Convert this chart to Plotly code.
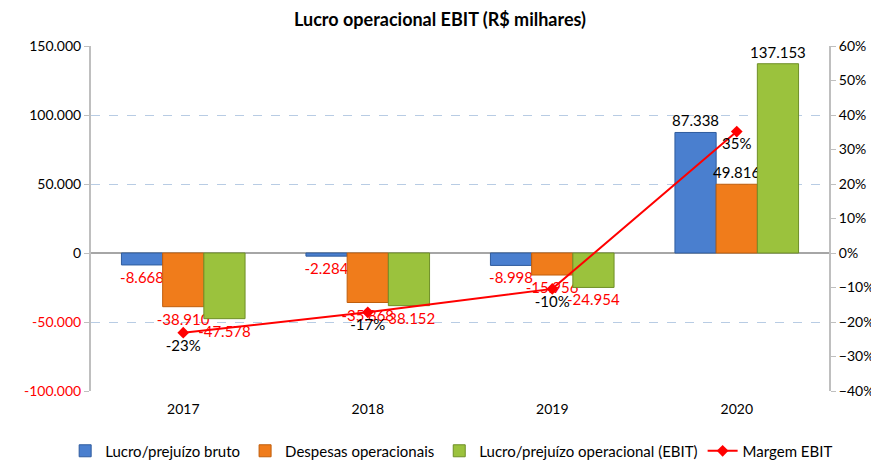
import plotly.graph_objects as go

years = ["2017", "2018", "2019", "2020"]
lucro_bruto = [-8668, -2284, -8998, 87338]
despesas = [-38910, -35868, -15956, 49816]
ebit = [-47578, -38152, -24954, 137153]
margem = [-0.231, -0.172, -0.104, 0.352]

left_ticks = [-100000, -50000, 0, 50000, 100000, 150000]


def fmt(v):
    return f"{v:,}".replace(",", ".")


def tick_label(v):
    s = fmt(v)
    return f'<span style="color:#ff0000">{s}</span>' if v < 0 else s


def val_colors(vals):
    return ["#ff0000" if v < 0 else "#000000" for v in vals]


FONT = "Lato, Open Sans, sans-serif"

fig = go.Figure()
series = [
    ("Lucro/prejuízo bruto", lucro_bruto, "#4a7fcf", "#2f5c9e"),
    ("Despesas operacionais", despesas, "#f07c1b", "#c05e0c"),
    ("Lucro/prejuízo operacional (EBIT)", ebit, "#9bc23d", "#6f8f27"),
]
for name, vals, col, lcol in series:
    fig.add_trace(go.Bar(
        x=years, y=vals, name=name,
        marker=dict(color=col, line=dict(color=lcol, width=1)),
        text=[fmt(v) for v in vals], textposition="outside",
        textfont=dict(color=val_colors(vals), size=15, family=FONT),
        constraintext="none", textangle=0,
        cliponaxis=False,
    ))

fig.add_trace(go.Scatter(
    x=years, y=margem, name="Margem EBIT", yaxis="y2",
    mode="lines+markers+text",
    line=dict(color="#ff0000", width=2),
    marker=dict(symbol="diamond", size=9, color="#ff0000"),
    text=[f"{round(m*100):d}%" for m in margem], textposition="bottom center",
    textfont=dict(color="#000000", size=15, family=FONT),
    cliponaxis=False,
))

# page has an 8px body margin, so the figure is sized/offset to compensate
fig.update_layout(
    width=871, height=453,
    margin=dict(l=83, r=50, t=38, b=70, autoexpand=False),
    paper_bgcolor="white", plot_bgcolor="white",
    font=dict(family=FONT, size=14, color="#000000"),
    separators=",.",
    title=dict(text="<b>Lucro operacional EBIT (R$ milhares)</b>", x=0.496, xanchor="center",
               xref="container", yref="container", y=0.975, yanchor="middle",
               automargin=False, font=dict(size=18, family=FONT)),
    barmode="group", bargap=0.33, bargroupgap=0,
    showlegend=True,
    legend=dict(orientation="h", x=-0.035, xanchor="left",
                y=-0.174, yanchor="middle", itemwidth=30,
                font=dict(size=15, family=FONT), traceorder="normal"),
    xaxis=dict(type="category", showgrid=False, showline=False, ticks="",
               tickfont=dict(size=14), automargin=False, ticklabelstandoff=8),
    yaxis=dict(range=[-100000, 150000], tickvals=left_ticks,
               ticktext=[tick_label(v) for v in left_ticks],
               showgrid=True, gridcolor="#b8cce4", griddash="dash", gridwidth=1,
               zeroline=True, zerolinecolor="#a6a6a6", zerolinewidth=1.5,
               showline=True, linecolor="#bfbfbf", linewidth=2, automargin=False,
               ticks="outside", ticklen=5, tickcolor="#bfbfbf", tickfont=dict(size=14)),
    yaxis2=dict(range=[-0.4, 0.6], dtick=0.1, tickformat=".0%", overlaying="y", side="right",
                showgrid=False, zeroline=False, showline=True, linecolor="#bfbfbf", linewidth=2,
                automargin=False,
                ticks="outside", ticklen=5, tickcolor="#bfbfbf", tickfont=dict(size=14)),
)

fig.write_html("out.html")
